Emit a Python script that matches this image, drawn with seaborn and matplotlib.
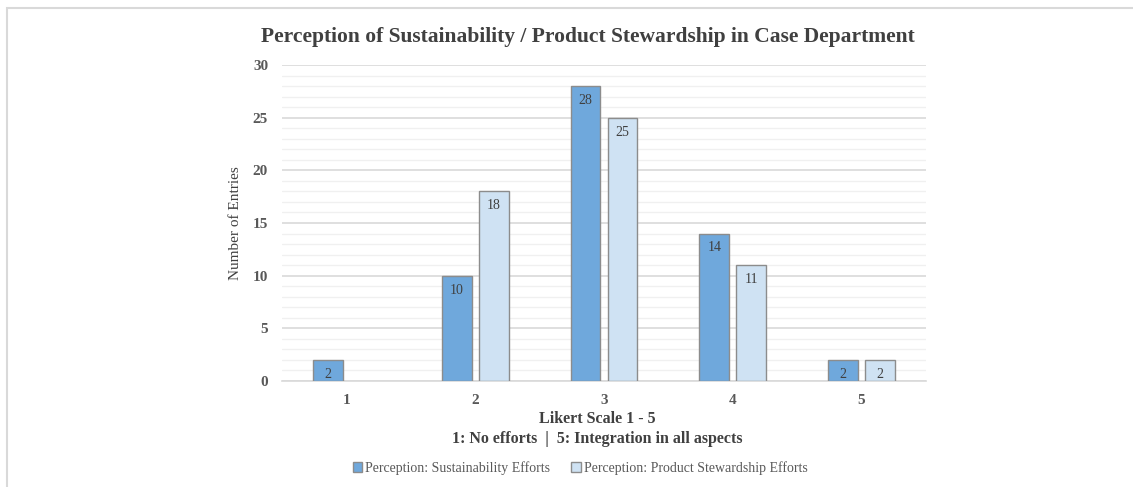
import numpy as np
import pandas as pd
import matplotlib
matplotlib.use("Agg")
import matplotlib.pyplot as plt
from matplotlib.patches import Rectangle
from matplotlib.ticker import MultipleLocator
import seaborn as sns

# Survey results: counts of entries per Likert score
likert_levels = ["1", "2", "3", "4", "5"]
sustainability_counts = [2, 10, 28, 14, 2]
stewardship_counts = [np.nan, 18, 25, 11, 2]
series_names = ["Perception: Sustainability Efforts",
                "Perception: Product Stewardship Efforts"]
series_colors = ["#6FA8DC", "#CFE2F3"]

df = pd.DataFrame({
    "Likert": likert_levels * 2,
    "Series": [series_names[0]] * 5 + [series_names[1]] * 5,
    "Count": sustainability_counts + stewardship_counts,
})

sns.set_theme(style="white")
plt.rcParams["font.family"] = ["Liberation Serif", "DejaVu Serif"]

W, H = 1133, 487
fig = plt.figure(figsize=(W / 100, H / 100), dpi=100)
ax = fig.add_axes([282 / W, 1 - 381 / H, (926 - 282) / W, (381 - 65) / H])

sns.barplot(data=df, x="Likert", y="Count", hue="Series", order=likert_levels,
            hue_order=series_names, palette=series_colors, width=0.574, gap=0.19,
            edgecolor="#8C8C8C", linewidth=1.0, saturation=1, ax=ax, legend=True,
            zorder=3)

# value labels just inside the top of each bar
for cont in ax.containers:
    labels = ["" if np.isnan(v) else f"{v:.0f}" for v in cont.datavalues]
    ax.bar_label(cont, labels=labels, padding=-15, fontsize=10, color="#404040",
                 zorder=4)

ax.set_ylim(0, 30)
ax.set_xlim(-0.5, 4.5)
ax.yaxis.set_major_locator(MultipleLocator(5))
ax.yaxis.set_minor_locator(MultipleLocator(1))
ax.grid(axis="y", which="major", color="#D9D9D9", linewidth=1.2, zorder=0)
ax.grid(axis="y", which="minor", color="#F0F0F0", linewidth=1.0, zorder=0)
ax.set_axisbelow(True)
for side in ["top", "right", "left"]:
    ax.spines[side].set_visible(False)
ax.spines["bottom"].set_color("#D9D9D9")
ax.spines["bottom"].set_linewidth(1.2)
ax.tick_params(axis="both", which="both", length=0, labelsize=11,
               labelcolor="#595959")
ax.tick_params(axis="x", pad=9)
ax.tick_params(axis="y", pad=10)
for lbl in ax.get_xticklabels() + ax.get_yticklabels():
    lbl.set_fontweight("bold")

ax.set_ylabel("Number of Entries", fontsize=11, color="#404040", labelpad=8)
ax.set_xlabel("Likert Scale 1 - 5\n1: No efforts  |  5: Integration in all aspects",
              fontsize=11.5, fontweight="bold", color="#404040", labelpad=1,
              linespacing=1.35)
ax.xaxis.set_label_coords(0.49, -0.095)
ax.xaxis.label.set_va("top")

fig.text(588 / W, 1 - 37 / H,
         "Perception of Sustainability / Product Stewardship in Case Department",
         ha="center", va="center", fontsize=15.5, fontweight="bold", color="#404040")

handles, labels = ax.get_legend_handles_labels()
ax.legend_.remove()
fig.legend(handles, labels, loc="center", bbox_to_anchor=(580 / W, 1 - 468 / H),
           ncol=2, frameon=False, fontsize=10, handlelength=0.7, handleheight=0.7,
           handletextpad=0.2, columnspacing=1.5, labelcolor="#595959")

# light frame around the chart area
fig.patches.append(Rectangle((7 / W, -0.1), 1.2, 1 - 8 / H + 0.1,
                             transform=fig.transFigure, fill=False,
                             edgecolor="#D9D9D9", linewidth=1.5))

fig.savefig("out.png", dpi=100, facecolor="white")
